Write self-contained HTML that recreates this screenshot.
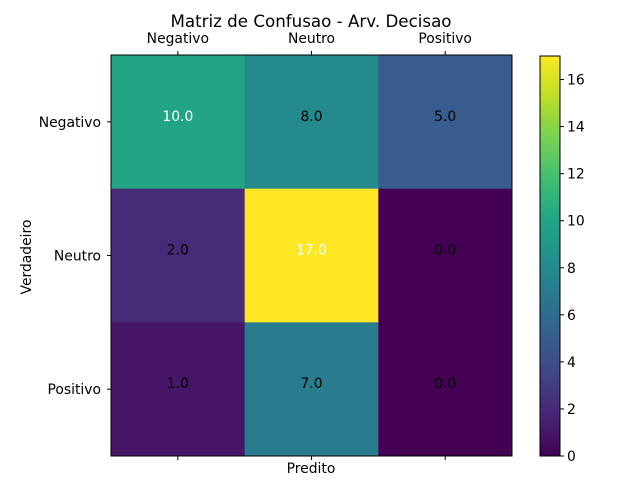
<!DOCTYPE html>
<html><head><meta charset="utf-8"><style>
body{margin:0;background:#fff}
svg{font-family:"DejaVu Sans","Liberation Sans",sans-serif}
</style></head><body>
<svg width="640" height="480" xmlns="http://www.w3.org/2000/svg">
<defs><linearGradient id="vir" x1="0" y1="1" x2="0" y2="0">
<stop offset="0" stop-color="#440154"/><stop offset="0.1" stop-color="#482475"/><stop offset="0.2" stop-color="#414487"/><stop offset="0.3" stop-color="#355f8d"/><stop offset="0.4" stop-color="#2a788e"/><stop offset="0.5" stop-color="#21918c"/><stop offset="0.6" stop-color="#22a884"/><stop offset="0.7" stop-color="#44bf70"/><stop offset="0.8" stop-color="#7ad151"/><stop offset="0.9" stop-color="#bddf26"/><stop offset="1" stop-color="#fde725"/>
</linearGradient></defs>
<text x="311" y="27" font-size="16.7" text-anchor="middle">Matriz de Confusao - Arv. Decisao</text>
<g id="plot"></g>
<text x="311" y="473" font-size="13.9" text-anchor="middle">Predito</text>
<text x="0" y="0" font-size="13.9" text-anchor="middle" transform="translate(31,257) rotate(-90)">Verdadeiro</text>
<rect x="540" y="56" width="20" height="400" fill="url(#vir)" stroke="#000" stroke-width="1"/>
<g id="cbar"></g>
</svg>
<script>
const labels=["Negativo","Neutro","Positivo"];
const matrix=[[10,8,5],[2,17,0],[1,7,0]];
const cbarTicks=[0,2,4,6,8,10,12,14,16];
const NS="http://www.w3.org/2000/svg";
const stops=["#440154","#482475","#414487","#355f8d","#2a788e","#21918c","#22a884","#44bf70","#7ad151","#bddf26","#fde725"];
function hex(h){return [1,3,5].map(i=>parseInt(h.substr(i,2),16));}
function viridis(t){t=Math.max(0,Math.min(1,t));const p=t*10,i=Math.min(9,Math.floor(p)),f=p-i;const a=hex(stops[i]),b=hex(stops[i+1]);return "rgb("+a.map((v,k)=>Math.round(v+(b[k]-v)*f)).join(",")+")";}
const vmax=Math.max(...matrix.flat()),vmin=0;
const X0=111,Y0=55,W=401,H=401,n=labels.length,cw=W/n,ch=H/n;
const g=document.getElementById("plot");
function el(tag,attrs,parent){const e=document.createElementNS(NS,tag);for(const k in attrs)e.setAttribute(k,attrs[k]);parent.appendChild(e);return e;}
matrix.forEach((row,r)=>row.forEach((v,c)=>{
 const rc=el("rect",{x:X0+c*cw,y:Y0+r*ch,width:cw+0.5,height:ch+0.5,fill:viridis((v-vmin)/(vmax-vmin))},g);
 
 
 const t=el("text",{x:X0+(c+0.5)*cw,y:Y0+(r+0.5)*ch-1,"font-size":13.9,"text-anchor":"middle",fill:v>vmax/2?"#fff":"#000"},g);
 t.textContent=v.toFixed(1);
 
 
}));
el("rect",{x:X0,y:Y0,width:W,height:H,fill:"none",stroke:"#000","stroke-width":1},g);
labels.forEach((l,i)=>{
 const cx=X0+(i+0.5)*cw,cy=Y0+(i+0.5)*ch;
 el("line",{x1:cx,y1:Y0,x2:cx,y2:Y0-4,stroke:"#000"},g);
 el("line",{x1:cx,y1:Y0+H,x2:cx,y2:Y0+H+4,stroke:"#000"},g);
 el("line",{x1:X0,y1:cy,x2:X0-4,y2:cy,stroke:"#000"},g);
 const tx=el("text",{x:cx,y:Y0-12,"font-size":13.9,"text-anchor":"middle"},g);tx.textContent=l;
 
 
 const ty=el("text",{x:X0-10,y:cy+5,"font-size":13.9,"text-anchor":"end"},g);ty.textContent=l;
 
 
});
const cb=document.getElementById("cbar");
cbarTicks.forEach(v=>{
 const y=456-(v-vmin)/(vmax-vmin)*400;
 el("line",{x1:560,y1:y,x2:564,y2:y,stroke:"#000"},cb);
 const t=el("text",{x:567,y:y+5,"font-size":13.9},cb);t.textContent=v;
 
 
});
</script>
</body></html>
